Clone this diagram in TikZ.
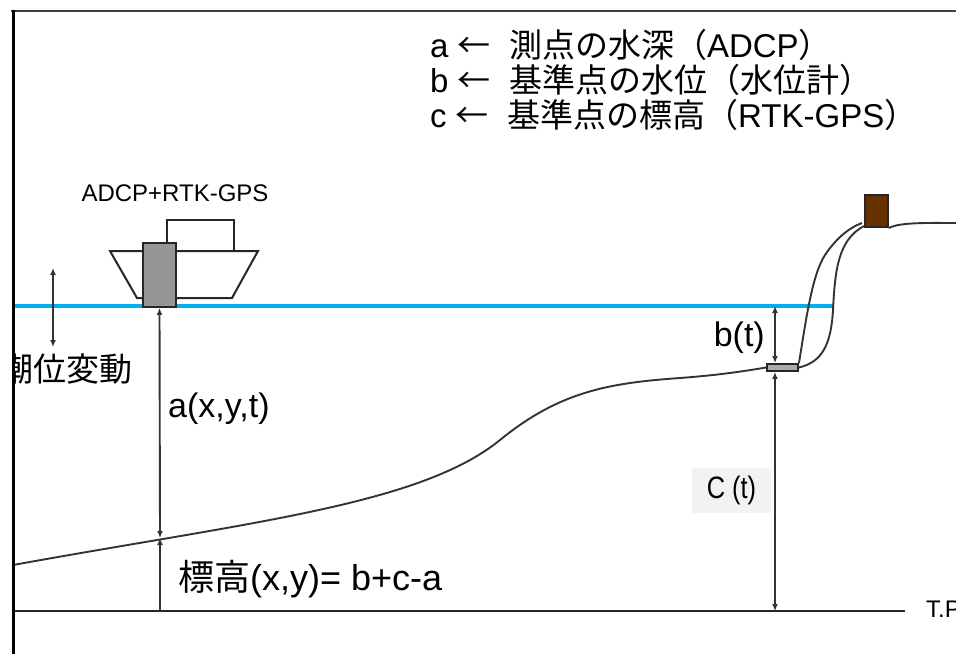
\documentclass[tikz,border=0pt]{standalone}
\usepackage{fontspec}
\setmainfont{Liberation Sans}
\newfontfamily\jp{Noto Sans CJK JP}
\newfontfamily\narrowsans[FakeStretch=0.82]{Liberation Sans}
\usetikzlibrary{arrows.meta}
\definecolor{water}{RGB}{0,176,240}
\definecolor{rockbrown}{RGB}{102,51,0}
\definecolor{labelgray}{RGB}{242,242,242}
\definecolor{devgray}{RGB}{150,150,150}
\newcommand{\fsz}[1]{\fontsize{#1}{#1}\selectfont}

\begin{document}
\begin{tikzpicture}[x=1pt,y=-1pt,
  line/.style={line width=2pt, draw=black!85},
  thin line/.style={line width=1.9pt, draw=black!80},
  tip/.style={-{Latex[length=7pt,width=6pt]}},
  dim/.style={thin line, {Latex[length=7pt,width=6pt]}-{Latex[length=7pt,width=6pt]}},
  txt/.style={inner sep=0pt, text=black},
  device/.style={draw=black!85, line width=1.9pt, inner sep=0pt},
]
\useasboundingbox (0,0) rectangle (956,654);

% legend
\node[txt, anchor=west, font=\fsz{33}] (lega) at (430,45)
  {a {\jp ←}\ \ {\jp 測点の水深（}ADCP{\jp ）}};
\node[txt, anchor=west, font=\fsz{33}] (legb) at (430,80)
  {b {\jp ←}\ \ {\jp 基準点の水位（水位計）}};
\node[txt, anchor=west, font=\fsz{33}] (legc) at (430,115)
  {c {\jp ←}\ \ {\jp 基準点の標高（}RTK-GPS{\jp ）}};

% water surface
\coordinate (w0) at (13,306);
\coordinate (wend) at (833,306);
\draw[water, line width=3.5pt] (w0) -- (wend);

% survey boat with ADCP
\node[txt, font=\fsz{24}] (boatlbl) at (175,193) {ADCP+RTK-GPS};
\draw[line, fill=white] (167,251) rectangle (234,220);
\draw[line, fill=white] (110,251) -- (258,251) -- (232,298) -- (137,298) -- cycle;
\node[device, fill=devgray, minimum width=33pt, minimum height=64pt] (adcp) at (159.5,275) {};

% datum line
\coordinate (base0) at (13,611);
\coordinate (base1) at (905,611);
\draw[line] (base0) -- (base1);
\node[txt, anchor=west, font=\fsz{24}] (tp) at (926,609) {T.P.};

% gauge, benchmark, bank
\node[device, fill=devgray!80, minimum width=31pt, minimum height=7pt] (gauge) at (782.5,367.5) {};
\node[device, fill=rockbrown, minimum width=23pt, minimum height=32pt] (bm) at (876.5,211) {};

% sea bed
\draw[thin line] (13,565) .. controls (250,522) and (420,505) .. (500,440)
  .. controls (560,391) and (610,383) .. (680,378)
  .. controls (720,375) and (745,371) .. (gauge.west);
% bank up to the benchmark
\draw[thin line] (gauge.east) .. controls (822,362) and (831,345) .. (833,310)
  .. controls (835,270) and (838,240) .. (864,226);
% gauge cable
\draw[thin line] (gauge.north east) .. controls (806,320) and (812,275) .. (825,255)
  .. controls (835,240) and (848,228) .. (862,223);
% ground behind the benchmark
\draw[thin line] (bm.south east) .. controls (900,222) and (930,223) .. (956,223);

% dimension arrows
\coordinate (sa) at (160,538);
\coordinate (sabase) at (160,611);
\draw[dim] (adcp.south) -- (sa);
\draw[thin line, tip] (sabase) -- (sa);

\coordinate (wb) at (775,306);
\draw[dim] (wb) -- (wb |- gauge.north);
\coordinate (cb) at (775,611);
\draw[dim] (wb |- gauge.south) -- (cb);

\coordinate (tidetop) at (53,268);
\coordinate (tidebot) at (53,347);
\draw[dim] (tidetop) -- (tidebot);

% labels
\node[txt, font={\jp\fsz{33}}] (tide) at (67,369) {潮位変動};
\node[txt, anchor=west, font=\fsz{34}] (alab) at (168,409) {a(x,y,t)};
\node[txt, anchor=west, font=\fsz{36}] (elev) at (178,579) {{\jp 標高}(x,y)= b+c-a};
\node[txt, anchor=east, font=\fsz{34}] (blab) at (765,338) {b(t)};
\node[fill=labelgray, minimum width=79pt, minimum height=45pt, inner sep=0pt,
      font=\narrowsans\fsz{31}] (clab) at (731.5,490.5) {C (t)};

% frame
\fill[white] (0,0) rectangle (12,654);
\draw[line width=2pt, black!75] (11,11) -- (956,11);
\draw[line width=3pt, black] (13,10) -- (13,654);
\end{tikzpicture}
\end{document}
